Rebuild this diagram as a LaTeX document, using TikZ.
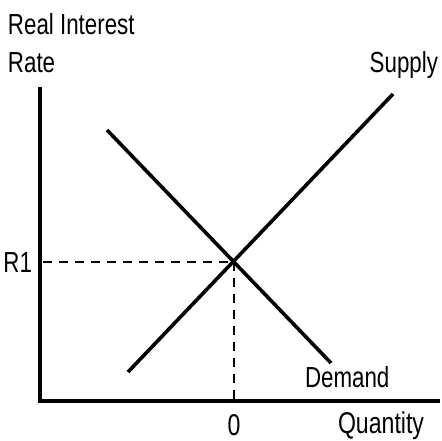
\documentclass[tikz,border=0pt]{standalone}
\usepackage{fontspec}
\setmainfont[FakeStretch=0.77]{Liberation Sans}
\begin{document}
\begin{tikzpicture}[x=1pt,y=-1pt,
  lbl/.style={inner sep=0pt,outer sep=0pt,font=\fontsize{29}{31}\selectfont,anchor=base west},
  biglbl/.style={lbl,font=\fontsize{30}{32}\selectfont},
  axisline/.style={line width=3.6pt},
  curve/.style={line width=3.6pt},
  guide/.style={line width=2.6pt,dash pattern=on 9pt off 7pt}]
\useasboundingbox (0,0) rectangle (442,441);
% labels
\node[lbl] (ylab1) at (8,35) {Real Interest};
\node[lbl] (ylab2) at (8,73) {Rate};
\node[lbl,anchor=base east] (r1) at (32,272) {R1};
\node[lbl,anchor=base east] (supply) at (438,73) {Supply};
\node[lbl] (demand) at (305,387) {Demand};
\node[biglbl,anchor=base] (zero) at (234,435) {0};
\node[biglbl] (qty) at (338,433) {Quantity};
% axes
\coordinate (ytop) at (40,87);
\coordinate (origin) at (40,401);
\coordinate (xend) at (440,401);
\draw[axisline] (ytop) -- (origin) -- (xend);
% curves
\coordinate (s1) at (128,372);
\coordinate (s2) at (393,94);
\coordinate (d1) at (107,130);
\coordinate (d2) at (331,363);
\draw[curve] (s1) -- (s2);
\draw[curve] (d1) -- (d2);
% equilibrium
\coordinate (eq) at (234,262);
\coordinate (eqy) at (43,262);
\coordinate (eqx) at (234,401);
\draw[guide] (eqy) -- (eq);
\draw[guide] (eq) -- (eqx);
\end{tikzpicture}
\end{document}
